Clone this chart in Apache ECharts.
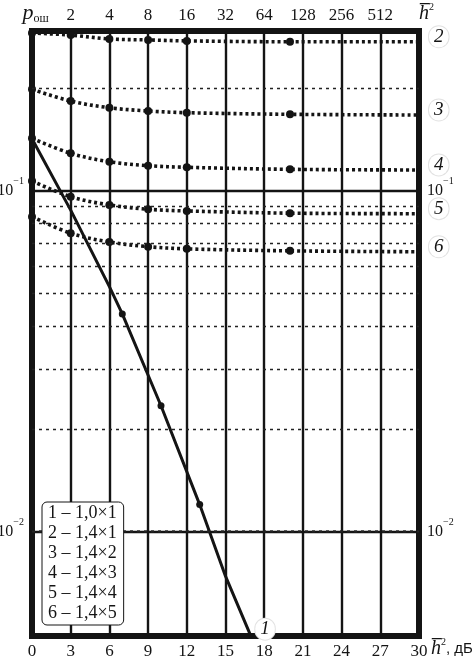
<!DOCTYPE html>
<html>
<head>
<meta charset="utf-8">
<script src="https://cdn.jsdelivr.net/npm/echarts@6/dist/echarts.min.js"></script>
<style>
  html, body { margin: 0; padding: 0; background: #fff; }
  #chart { width: 476px; height: 659px; }
</style>
</head>
<body>
<div id="chart"></div>
<script>
// значения
var topLabels = ['', '2', '4', '8', '16', '32', '64', '128', '256', '512', ''];
var curveNames = ['1 – 1,0×1', '2 – 1,4×1', '3 – 1,4×2', '4 – 1,4×3', '5 – 1,4×4', '6 – 1,4×5'];
var curveTags = ['1', '2', '3', '4', '5', '6'];

var curve1Db = [0, 3, 6, 7, 10, 13, 15, 17];
var curve1 = [0.142, 0.0877, 0.0523, 0.0435, 0.0234, 0.0120, 0.0074, 0.0049];
var curve1Marks = [7, 10, 13];

var curvesDb = [0, 3, 6, 9, 12, 20, 30];
var curve2 = [0.290, 0.286, 0.2786, 0.2768, 0.275, 0.2734, 0.2734];
var curve3 = [0.1983, 0.1832, 0.1751, 0.1713, 0.1693, 0.1675, 0.1667];
var curve4 = [0.1425, 0.1287, 0.1216, 0.1184, 0.1171, 0.1155, 0.115];
var curve5 = [0.1068, 0.0960, 0.0908, 0.0882, 0.0872, 0.0859, 0.0856];
var curve6 = [0.0839, 0.0750, 0.0707, 0.0685, 0.0675, 0.0666, 0.0662];
var curvesMarks = [0, 3, 6, 9, 12, 20];

var minorGrid = [0.2, 0.09, 0.08, 0.07, 0.06, 0.05, 0.04, 0.03, 0.02,
                 0.009, 0.008, 0.007, 0.006];
var yMin = 0.00494, yMax = 0.294;

var ink = '#141414';
var serif = 'Liberation Serif';

function pairs(xs, ys) {
  return xs.map(function (x, i) { return [x, ys[i]]; });
}

function powerLabel(v) {
  var p = Math.log10(v);
  var r = Math.round(p);
  if (Math.abs(p - r) > 1e-6) return '';
  return '{b|10}{s|−' + (-r) + '}';
}

var powerRich = {
  b: { fontSize: 16, lineHeight: 28, fontFamily: serif, color: ink },
  s: { fontSize: 10, verticalAlign: 'top', fontFamily: serif, color: ink }
};

var tagStyle = {
  show: true,
  color: ink,
  fontFamily: serif,
  fontStyle: 'italic',
  fontSize: 19,
  backgroundColor: '#fff',
  borderColor: '#e2e2e2',
  borderWidth: 1,
  borderRadius: 11,
  padding: [1, 5],
  distance: 10,
  offset: [0, -5]
};

var chart = echarts.init(document.getElementById('chart'));

var series = [{
  name: curveNames[0],
  type: 'line',
  data: pairs(curve1Db, curve1),
  symbol: 'circle',
  symbolSize: function (v) { return curve1Marks.indexOf(v[0]) >= 0 ? 7 : 0; },
  lineStyle: { color: ink, width: 3 },
  itemStyle: { color: ink },
  endLabel: Object.assign({}, tagStyle, {
    formatter: curveTags[0], distance: 4, offset: [0, -8]
  }),
  z: 3
}];

[curve2, curve3, curve4, curve5, curve6].forEach(function (ys, i) {
  series.push({
    name: curveNames[i + 1],
    type: 'line',
    data: pairs(curvesDb, ys),
    symbol: 'circle',
    symbolSize: function (v) { return curvesMarks.indexOf(v[0]) >= 0 ? 8 : 0; },
    smooth: 0.35,
    lineStyle: { color: ink, width: 3.6, type: [3, 3], cap: 'butt' },
    itemStyle: { color: ink },
    endLabel: Object.assign({}, tagStyle, { formatter: curveTags[i + 1] }),
    z: 3
  });
});

// пунктирная сетка 2..9
series.push({
  type: 'line',
  data: [],
  silent: true,
  z: 1,
  markLine: {
    silent: true,
    symbol: 'none',
    animation: false,
    label: { show: false },
    lineStyle: { color: '#222', width: 1.3, type: [3, 4] },
    data: minorGrid.map(function (v) { return { yAxis: v }; })
  }
});

var option = {
  animation: false,
  textStyle: { fontFamily: serif, color: ink },
  grid: {
    left: 32, right: 57, top: 31, bottom: 23,
    show: true,
    borderWidth: 6,
    borderColor: ink,
    backgroundColor: '#fff',
    outerBoundsMode: 'none'
  },
  legend: {
    data: curveNames,
    orient: 'vertical',
    left: 42,
    top: 502,
    z: 20,
    icon: 'none',
    itemWidth: 0,
    itemHeight: 14,
    itemGap: 1,
    selectedMode: false,
    backgroundColor: '#fff',
    borderColor: ink,
    borderWidth: 1,
    borderRadius: 5,
    padding: [2, 7, 2, 1],
    textStyle: { fontFamily: serif, fontSize: 18, lineHeight: 19, color: ink }
  },
  xAxis: [{
    type: 'value',
    position: 'bottom',
    min: 0, max: 30, interval: 3,
    axisLine: { show: false },
    axisTick: { show: false },
    axisLabel: { margin: 7, fontSize: 17, fontFamily: serif, color: ink },
    splitLine: { show: true, lineStyle: { color: ink, width: 2.4 } },
    name: '{h|h\u0305}{s|2}{t|, дБ}',
    nameLocation: 'end',
    nameGap: 12,
    nameMoveOverlap: false,
    nameTextStyle: {
      verticalAlign: 'top',
      padding: [1, 0, 0, 0],
      rich: {
        h: { fontSize: 20, fontStyle: 'italic', fontFamily: serif, color: ink, lineHeight: 24 },
        s: { fontSize: 10, verticalAlign: 'top', fontFamily: serif, color: ink },
        t: { fontSize: 15, fontFamily: 'Liberation Sans', color: ink }
      }
    }
  }, {
    type: 'value',
    position: 'top',
    min: 0, max: 30, interval: 3,
    axisLine: { show: false },
    axisTick: { show: false },
    splitLine: { show: false },
    axisLabel: {
      margin: 7, fontSize: 17, fontFamily: serif, color: ink,
      formatter: function (v) { return topLabels[Math.round(v / 3)] || ''; }
    },
    name: '{h|h\u0305}{s|2}',
    nameLocation: 'end',
    nameGap: 0,
    nameMoveOverlap: false,
    nameTextStyle: {
      verticalAlign: 'bottom',
      padding: [0, 0, 5, 0],
      rich: {
        h: { fontSize: 20, fontStyle: 'italic', fontFamily: serif, color: ink, lineHeight: 24 },
        s: { fontSize: 10, verticalAlign: 'top', fontFamily: serif, color: ink }
      }
    }
  }],
  yAxis: [{
    type: 'log',
    logBase: 10,
    position: 'left',
    min: yMin, max: yMax,
    axisLine: { show: false },
    axisTick: { show: false },
    axisLabel: { margin: 8, formatter: powerLabel, rich: powerRich },
    splitLine: { show: true, lineStyle: { color: ink, width: 2.4 } },
    name: '{p|p}{s|ош}',
    nameLocation: 'end',
    nameGap: 6,
    nameMoveOverlap: false,
    nameTextStyle: {
      align: 'center',
      padding: [0, 0, 0, 7],
      rich: {
        p: { fontSize: 22, fontStyle: 'italic', fontFamily: serif, color: ink, lineHeight: 24 },
        s: { fontSize: 12, verticalAlign: 'bottom', fontFamily: serif, color: ink, lineHeight: 16 }
      }
    }
  }, {
    type: 'log',
    logBase: 10,
    position: 'right',
    min: yMin, max: yMax,
    axisLine: { show: false },
    axisTick: { show: false },
    splitLine: { show: false },
    axisLabel: { margin: 8, formatter: powerLabel, rich: powerRich }
  }],
  series: series
};

chart.setOption(option);
</script>
</body>
</html>
